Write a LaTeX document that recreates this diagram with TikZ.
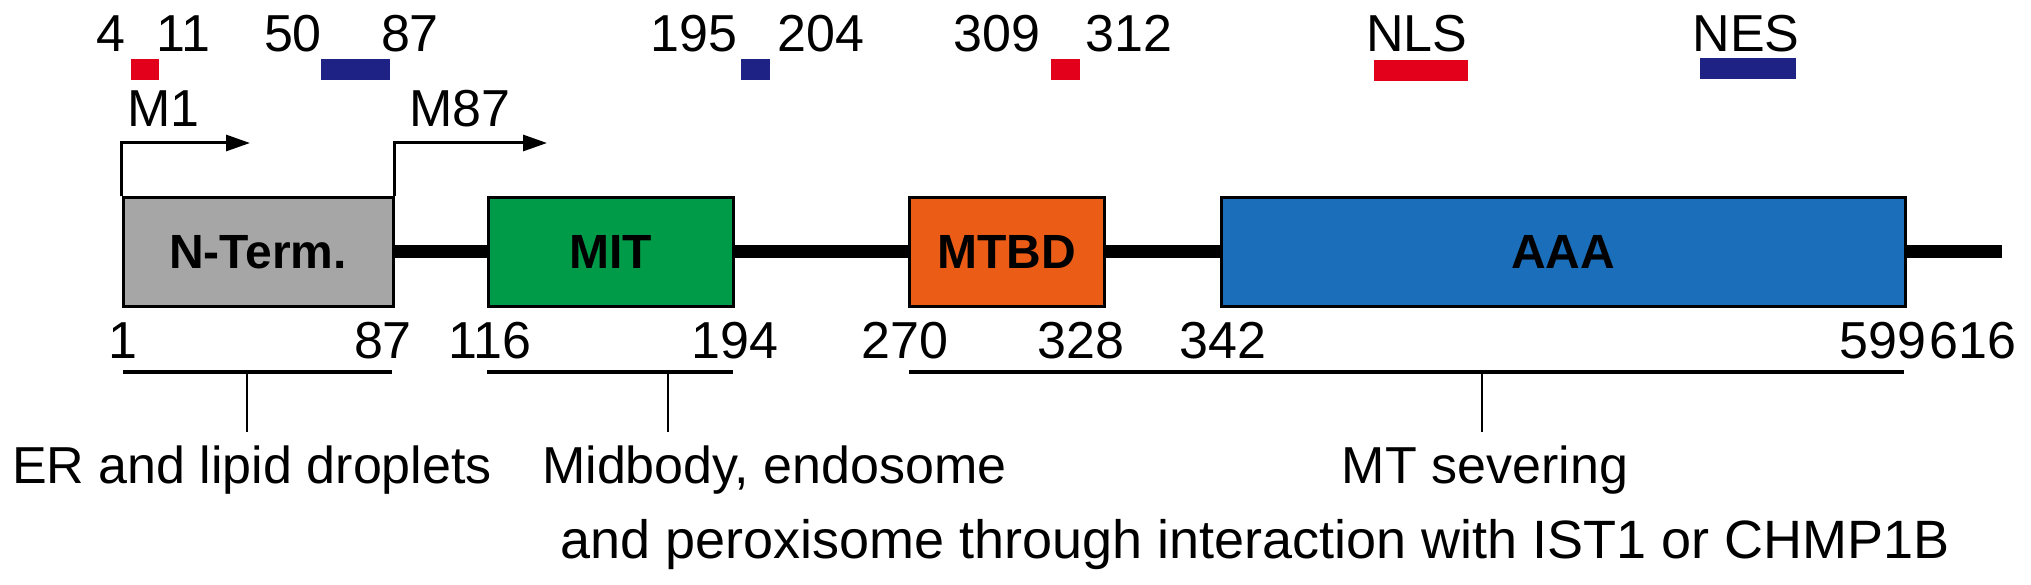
\documentclass[tikz,border=0pt]{standalone}
\usepackage{fontspec}
\setmainfont{Liberation Sans}
\usetikzlibrary{arrows.meta}
\definecolor{ntgray}{RGB}{166,166,166}
\definecolor{mitgreen}{RGB}{0,155,72}
\definecolor{mtbdorange}{RGB}{235,92,23}
\definecolor{aaablue}{RGB}{27,110,185}
\definecolor{sigred}{RGB}{226,0,26}
\definecolor{signavy}{RGB}{30,34,133}
\begin{document}
\begin{tikzpicture}[x=1pt,y=-1pt,
  lbl/.style={inner sep=0pt,anchor=base,font=\fontsize{52pt}{60pt}\selectfont},
  dom/.style={draw=black,line width=3pt,inner sep=0pt,minimum height=108pt,font=\fontsize{48pt}{56pt}\selectfont\bfseries},
  bb/.style={line width=13pt},
  brk/.style={line width=4pt},
  tick/.style={line width=2.5pt},
  arr/.style={line width=3pt,-{Triangle[length=24pt,width=16pt]}}]
\useasboundingbox (0,0) rectangle (2031,585);
% top labels
\node[lbl] (t4) at (111,52) {4};
\node[lbl] (t11) at (183,52) {11};
\node[lbl] (t50) at (293,52) {50};
\node[lbl] (t87) at (410,52) {87};
\node[lbl] (t195) at (694,52) {195};
\node[lbl] (t204) at (821,52) {204};
\node[lbl] (t309) at (997,52) {309};
\node[lbl] (t312) at (1129,52) {312};
\node[lbl] (tnls) at (1417,52) {NLS};
\node[lbl] (tnes) at (1746,52) {NES};
% signal bars
\fill[sigred] (131,59) rectangle (159,80);
\fill[signavy] (321,59) rectangle (390,80);
\fill[signavy] (741,59) rectangle (770,80);
\fill[sigred] (1051,59) rectangle (1080,80);
\fill[sigred] (1374,60) rectangle (1468,81);
\fill[signavy] (1700,58) rectangle (1796,79);
% domains
\node[dom,fill=ntgray,minimum width=270pt] (nterm) at (258,252) {N-Term.};
\node[dom,fill=mitgreen,minimum width=245pt] (mit) at (610.5,252) {MIT};
\node[dom,fill=mtbdorange,minimum width=195pt] (mtbd) at (1006.5,252) {MTBD};
\node[dom,fill=aaablue,minimum width=684pt] (aaa) at (1563,252) {AAA};
\coordinate (cend) at (2002,252);
\draw[bb] (nterm.east) -- (mit.west);
\draw[bb] (mit.east) -- (mtbd.west);
\draw[bb] (mtbd.east) -- (aaa.west);
\draw[bb] (aaa.east) -- (cend);
% start sites
\coordinate (m1tip) at (250,143);
\coordinate (m87tip) at (547,143);
\draw[arr] (nterm.north west) |- (m1tip);
\draw[arr] (nterm.north east) |- (m87tip);
\node[lbl,anchor=base west] (m1) at (127,127) {M1};
\node[lbl,anchor=base west] (m87) at (409,127) {M87};
% bottom numbers
\node[lbl] (b1) at (123,358) {1};
\node[lbl] (b87) at (383,358) {87};
\node[lbl] (b116) at (490,358) {116};
\node[lbl] (b194) at (735,358) {194};
\node[lbl] (b270) at (905,358) {270};
\node[lbl] (b328) at (1081,358) {328};
\node[lbl] (b342) at (1223,358) {342};
\node[lbl] (b599) at (1883,358) {599};
\node[lbl] (b616) at (1973,358) {616};
% brackets
\coordinate (r1a) at (123,372); \coordinate (r1b) at (392,372);
\coordinate (r2a) at (487,372); \coordinate (r2b) at (733,372);
\coordinate (r3a) at (909,372); \coordinate (r3b) at (1904,372);
\draw[brk] (r1a) -- (r1b);
\draw[brk] (r2a) -- (r2b);
\draw[brk] (r3a) -- (r3b);
\coordinate (k1a) at (247,372); \coordinate (k1b) at (247,432);
\coordinate (k2a) at (668,372); \coordinate (k2b) at (668,432);
\coordinate (k3a) at (1482,372); \coordinate (k3b) at (1482,432);
\draw[tick] (k1a) -- (k1b);
\draw[tick] (k2a) -- (k2b);
\draw[tick] (k3a) -- (k3b);
% function texts
\node[lbl] (er) at (252,483) {ER and lipid droplets};
\node[lbl,anchor=base west] (mid) at (542,483) {Midbody, endosome};
\node[lbl] (mts) at (1485,483) {MT severing};
\node[lbl,anchor=base west,font=\fontsize{54pt}{60pt}\selectfont] (perox) at (560,558) {and peroxisome through interaction with IST1 or CHMP1B};
\end{tikzpicture}
\end{document}
